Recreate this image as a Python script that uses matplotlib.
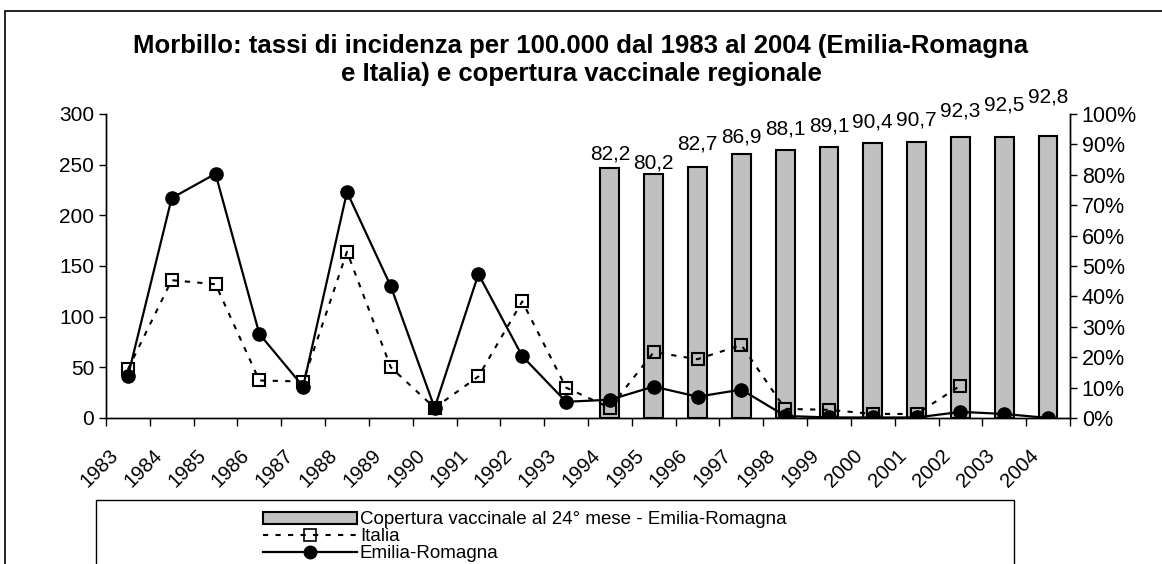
import matplotlib
matplotlib.use('Agg')
import matplotlib.pyplot as plt
import matplotlib.transforms as mtransforms
from matplotlib.patches import Rectangle
from matplotlib.lines import Line2D
import numpy as np

plt.rcParams['font.family'] = ['Liberation Sans', 'DejaVu Sans']

# data
years = [str(y) for y in range(1983, 2005)]
emilia = [41, 217, 241, 83, 31, 223, 130, 10, 142, 61, 16, 18, 31, 21, 28,
          2, 0.5, 0.5, 0.5, 6, 4, 0]
italia = [48, 136, 132, 37, 36, 164, 50, 10, 41, 115, 30, 10, 65, 58, 72,
          9, 8, 4, 4, 32, np.nan, np.nan]
cov_years = [str(y) for y in range(1994, 2005)]
coverage = [82.2, 80.2, 82.7, 86.9, 88.1, 89.1, 90.4, 90.7, 92.3, 92.5, 92.8]

# gap (points) between bar top and value label baseline, as in the original
label_pad = [6, 4, 12, 8, 11, 11, 11.5, 12, 15, 19, 24]

x = np.arange(len(years))
xc = np.array([years.index(y) for y in cov_years])

fig = plt.figure(figsize=(11.62, 5.64), dpi=100)
ax = fig.add_axes([0.0912, 0.2589, 0.8296, 0.539])
ax2 = ax.twinx()

# bars on the right axis
ax2.bar(xc, coverage, width=0.43, color='#c0c0c0', edgecolor='black',
        linewidth=1.5)
for xi, v, p in zip(xc, coverage, label_pad):
    ax2.annotate(f'{v:.1f}'.replace('.', ','), (xi, v), xytext=(0, p),
                 textcoords='offset points', ha='center', va='baseline',
                 fontsize=15, annotation_clip=False)
ax2.set_ylim(0, 100)
ax2.set_yticks(np.arange(0, 101, 10))
ax2.set_yticklabels([f'{v}%' for v in range(0, 101, 10)])

# lines on the left axis, drawn above the bars
ax.set_zorder(ax2.get_zorder() + 1)
ax.patch.set_visible(False)
ax.plot(x, italia, linestyle=(0, (2.5, 3.5)), color='black', lw=1.5,
        marker='s', markersize=9, markerfacecolor='none',
        markeredgecolor='black', markeredgewidth=1.5)
ax.plot(x, emilia, linestyle='-', color='black', lw=1.6,
        marker='o', markersize=9.5, markerfacecolor='black')

ax.set_xlim(-0.5, len(years) - 0.5)
ax.set_ylim(0, 300)
ax.set_yticks(np.arange(0, 301, 50))

ax.set_xticks(np.arange(-0.5, len(years), 1))
ax.set_xticklabels([])
ax.set_xticks(x, minor=True)
ax.set_xticklabels(years, minor=True, rotation=45, ha='right')
ax.tick_params(axis='x', which='minor', length=0, pad=20, labelsize=14.5)
ax.tick_params(axis='x', which='major', length=6, width=1)
ax.tick_params(axis='y', labelsize=15, length=5, width=1)
ax2.tick_params(axis='y', labelsize=15.5, length=5, width=1)
shift = mtransforms.ScaledTranslation(-6 / 100, 0, fig.dpi_scale_trans)
for lab in ax.get_xticklabels(minor=True):
    lab.set_transform(lab.get_transform() + shift)

for a in (ax, ax2):
    a.spines['top'].set_visible(False)
    for s in ('left', 'right', 'bottom'):
        a.spines[s].set_linewidth(1)

fig.text(0.5, 0.893,
         'Morbillo: tassi di incidenza per 100.000 dal 1983 al 2004 (Emilia-Romagna\n'
         'e Italia) e copertura vaccinale regionale',
         ha='center', va='center', fontsize=18.5, fontweight='bold',
         linespacing=1.2)

# outer chart border and legend box
fig.patches.append(Rectangle((5 / 1162, -0.1), 1.2, 1 - 11 / 564 + 0.1,
                             transform=fig.transFigure, fill=False,
                             edgecolor='black', lw=1.2))
fig.patches.append(Rectangle((96 / 1162, -0.1), 918 / 1162, 0.1 + 64 / 564,
                             transform=fig.transFigure, fill=False,
                             edgecolor='black', lw=1))

handles = [
    Rectangle((0, 0), 1, 1, facecolor='#c0c0c0', edgecolor='black', lw=1.5),
    Line2D([], [], linestyle=(0, (2.5, 3.5)), color='black', lw=1.5,
           marker='s', markersize=8, markerfacecolor='none',
           markeredgewidth=1.2),
    Line2D([], [], linestyle='-', color='black', lw=1.6, marker='o',
           markersize=9, markerfacecolor='black'),
]
labels = ['Copertura vaccinale al 24° mese - Emilia-Romagna', 'Italia',
          'Emilia-Romagna']
fig.legend(handles, labels, loc='upper left',
           bbox_to_anchor=(254 / 1162, 1 - 502 / 564), frameon=False,
           fontsize=13.5, handlelength=5.0, handleheight=0.6,
           handletextpad=0.15, labelspacing=0.0, borderpad=0)

fig.savefig('out.png', dpi=100)
